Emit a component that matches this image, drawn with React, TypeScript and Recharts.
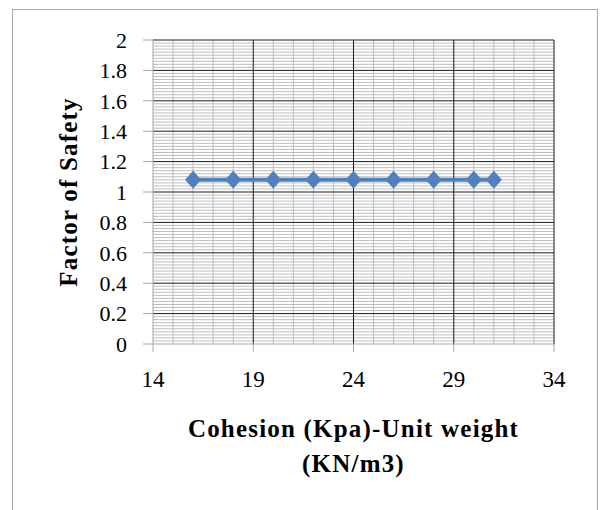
import {LineChart, Line, XAxis, YAxis, ReferenceLine, Label} from 'recharts';

const cohesion = [16, 18, 20, 22, 24, 26, 28, 30, 31];
const factorOfSafety = [1.08, 1.08, 1.08, 1.08, 1.08, 1.08, 1.08, 1.08, 1.08];
const xTicks = [14, 19, 24, 29, 34];
const yTicks = [0, 0.2, 0.4, 0.6, 0.8, 1, 1.2, 1.4, 1.6, 1.8, 2];
const xTitle = ["Cohesion (Kpa)-Unit weight", "(KN/m3)"];
const yTitle = "Factor of Safety";

const data = cohesion.map((c, i) => ({c, fos: factorOfSafety[i]}));

// excel style minor grid: every 1 on x, every 0.02 on y
const minorX: number[] = [];
for (let v = 15; v < 34; v++) if (!xTicks.includes(v)) minorX.push(v);
const minorY: number[] = [];
for (let i = 1; i < 100; i++) if (i % 10 !== 0) minorY.push(Math.round(i * 2) / 100);

const FONT = "'Liberation Serif', serif";
const GRAY = "#a6a6a6";

const Diamond = (props: any) => {
    const {cx, cy} = props;
    if (cx == null || cy == null) return null;
    return <polygon points={`${cx},${cy - 9} ${cx + 8},${cy} ${cx},${cy + 9} ${cx - 8},${cy}`} fill="#4f81bd"/>;
};

const XTitle = (props: any) => {
    const {x, y, width} = props.viewBox;
    const mid = x + width / 2;
    return <g fontFamily={FONT} fontWeight="bold" fontSize={25} fill="#000" letterSpacing={1.2}>
        <text x={mid} y={y + 93} textAnchor="middle">{xTitle[0]}</text>
        <text x={mid} y={y + 128} textAnchor="middle">{xTitle[1]}</text>
    </g>;
};

const YTitle = (props: any) => {
    const {y, height} = props.viewBox;
    const cy = y + height / 2;
    return <text x={0} y={0} transform={`translate(77, ${cy}) rotate(-90)`} textAnchor="middle"
                 fontFamily={FONT} fontWeight="bold" fontSize={25} letterSpacing={1.2} fill="#000">{yTitle}</text>;
};

export default function App() {
    return <div style={{position: "absolute", left: 0, top: 0, width: 601, height: 510, overflow: "hidden", background: "#fff"}}>
        <div style={{position: "absolute", left: 12, top: 9, width: 584, height: 540, border: `1.5px solid ${GRAY}`}}/>
        <LineChart width={601} height={510} data={data} margin={{top: 40, right: 47, bottom: 126, left: 0}}>
            <XAxis dataKey="c" type="number" domain={[14, 34]} ticks={xTicks} height={40} interval={0}
                   axisLine={{stroke: GRAY}} tickLine={{stroke: GRAY}} tickSize={8} tickMargin={19}
                   tick={{fontFamily: FONT, fontSize: 23, fill: "#000"}}
                   label={<Label content={XTitle}/>}/>
            <YAxis type="number" domain={[0, 2]} ticks={yTicks} width={153} interval={0}
                   axisLine={{stroke: GRAY}} tickLine={{stroke: GRAY}} tickSize={10} tickMargin={16}
                   tick={{fontFamily: FONT, fontSize: 22, fill: "#000"}}
                   label={<Label content={YTitle}/>}/>
            {minorY.map(v => <ReferenceLine key={`my${v}`} y={v} stroke="#bdbdbd"/>)}
            {minorX.map(v => <ReferenceLine key={`mx${v}`} x={v} stroke="#bdbdbd"/>)}
            {yTicks.filter(v => v > 0).map(v => <ReferenceLine key={`y${v}`} y={v} stroke="#1a1a1a"/>)}
            {xTicks.filter(v => v > 14).map(v => <ReferenceLine key={`x${v}`} x={v} stroke="#1a1a1a"/>)}
            <Line dataKey="fos" stroke="#4f81bd" strokeWidth={4} dot={<Diamond/>} activeDot={false}
                  isAnimationActive={false}/>
        </LineChart>
    </div>;
}
